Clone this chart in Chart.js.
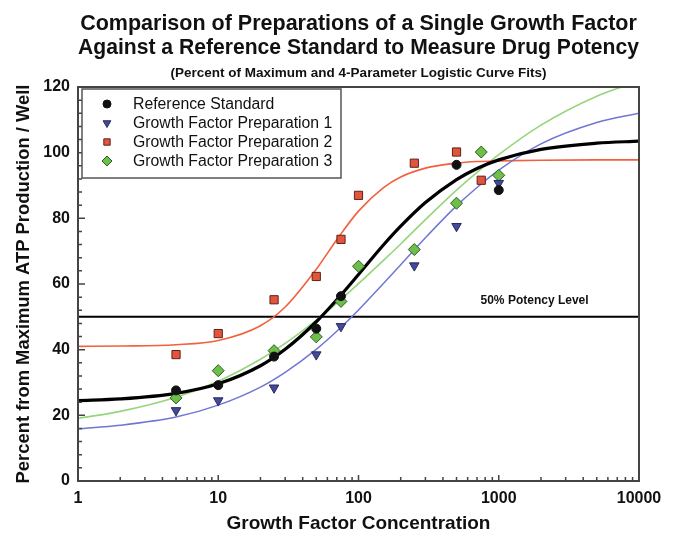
<!DOCTYPE html>
<html>
<head>
<meta charset="utf-8">
<script src="https://cdn.jsdelivr.net/npm/chart.js@4.4.0/dist/chart.umd.min.js"></script>
<style>
  body { margin: 0; background: #fff; }
</style>
</head>
<body>
<canvas id="myCanvas" width="674" height="535"></canvas>
<script>
'use strict';

// chart data

const seriesNames = [
  'Reference Standard',
  'Growth Factor Preparation 1',
  'Growth Factor Preparation 2',
  'Growth Factor Preparation 3'
];

// measured points (concentration, percent of maximum)
const refConc = [5, 10, 25, 50, 75, 500, 1000];
const refPct = [27.6, 29.2, 37.9, 46.4, 56.3, 96.3, 88.6];

const prep1Conc = [5, 10, 25, 50, 75, 250, 500, 1000];
const prep1Pct = [21.5, 24.5, 28.4, 38.5, 47.1, 65.6, 77.6, 90.7];

const prep2Conc = [5, 10, 25, 50, 75, 100, 250, 500, 750];
const prep2Pct = [38.5, 44.9, 55.2, 62.3, 73.6, 87.0, 96.8, 100.2, 91.6];

const prep3Conc = [5, 10, 25, 50, 75, 100, 250, 500, 750, 1000];
const prep3Pct = [25.3, 33.6, 39.7, 43.9, 54.7, 65.4, 70.5, 84.6, 100.2, 93.1];

// fitted curves
const curveConc = [1, 2, 5, 10, 20, 30, 50, 70, 100, 150, 200, 300, 500, 700, 1000, 2000, 5000, 10000];
const refFit = [24.5, 25.0, 26.7, 29.6, 35.1, 40.1, 48.5, 55.2, 62.9, 71.8, 77.6, 84.8, 91.8, 95.2, 97.8, 101.0, 102.9, 103.5];
const prep1Fit = [15.9, 17.0, 19.5, 23.1, 28.6, 33.1, 40.1, 45.6, 52.1, 60.1, 65.9, 74.1, 83.8, 89.4, 94.7, 102.7, 109.2, 112.0];
const prep2Fit = [41.0, 41.1, 41.5, 42.8, 47.3, 53.0, 64.5, 73.5, 82.2, 89.3, 92.6, 95.3, 96.8, 97.3, 97.5, 97.7, 97.8, 97.8];
const prep3Fit = [19.1, 21.2, 25.5, 30.4, 37.1, 41.9, 49.0, 54.2, 60.1, 67.1, 72.2, 79.6, 88.6, 94.0, 99.4, 108.4, 117.2, 121.8];

const potencyLevel = 50;
const potencyLabel = '50% Potency Level';

const xTickValues = [1, 10, 100, 1000, 10000];
const yTickValues = [0, 20, 40, 60, 80, 100, 120];

const fontFamily = '"Liberation Sans", Arial, Helvetica, sans-serif';

// helpers

function pairUp(xs, ys) {
  let out = [];
  for (let i = 0; i < xs.length; i++) {
    out.push({ x: xs[i], y: ys[i] });
  }
  return out;
}

function pointSet(label, xs, ys, style, fill, edge, radius, rotation) {
  return {
    label: label,
    data: pairUp(xs, ys),
    showLine: false,
    pointStyle: style,
    pointRadius: radius,
    pointRotation: rotation,
    backgroundColor: fill,
    borderColor: edge,
    pointBorderWidth: 1,
    order: 1
  };
}

function fitSet(ys, colour, width) {
  return {
    label: 'fit',
    data: pairUp(curveConc, ys),
    showLine: true,
    pointRadius: 0,
    borderColor: colour,
    borderWidth: width,
    cubicInterpolationMode: 'monotone',
    order: 2
  };
}

// plugins

const boxLegend = {
  id: 'boxLegend',
  afterDraw(chart) {
    const ctx = chart.ctx;
    const area = chart.chartArea;
    const left = area.left + 4;
    const top = area.top + 2;
    ctx.save();
    ctx.fillStyle = '#fff';
    ctx.fillRect(left, top, 259, 89);
    ctx.strokeStyle = '#555';
    ctx.lineWidth = 1.5;
    ctx.strokeRect(left, top, 259, 89);
    ctx.font = '15.8px ' + fontFamily;
    ctx.textBaseline = 'middle';
    ctx.textAlign = 'left';
    const sizes = [4, 4.5, 4.5, 5];
    for (let i = 0; i < seriesNames.length; i++) {
      const ds = chart.data.datasets[i];
      const y = top + 15 + i * 19;
      ctx.fillStyle = ds.backgroundColor;
      ctx.strokeStyle = ds.borderColor;
      ctx.lineWidth = 1;
      Chart.helpers.drawPoint(ctx, {
        pointStyle: ds.pointStyle,
        radius: sizes[i],
        rotation: ds.pointRotation,
        borderWidth: 1
      }, left + 25, y);
      ctx.fillStyle = '#111';
      ctx.fillText(seriesNames[i], left + 51, y + 1);
    }
    ctx.restore();
  }
};

const frameAndTicks = {
  id: 'frameAndTicks',
  afterDraw(chart) {
    const ctx = chart.ctx;
    const a = chart.chartArea;
    const xs = chart.scales.x;
    const ys = chart.scales.y;
    ctx.save();
    ctx.strokeStyle = '#444';
    ctx.lineWidth = 1.5;
    ctx.beginPath();
    // log ticks pointing up from the bottom axis
    for (let d = 1; d < 10000; d *= 10) {
      for (let k = 1; k <= 9; k++) {
        const px = xs.getPixelForValue(k * d);
        const len = k === 1 ? 6 : 4;
        ctx.moveTo(px, a.bottom);
        ctx.lineTo(px, a.bottom - len);
      }
    }
    // y ticks pointing right, minor every 4
    for (let v = 0; v <= 120; v += 4) {
      const py = ys.getPixelForValue(v);
      const len = v % 20 === 0 ? 7 : 4;
      ctx.moveTo(a.left, py);
      ctx.lineTo(a.left + len, py);
    }
    ctx.stroke();
    ctx.lineWidth = 2;
    ctx.strokeRect(a.left, a.top, a.right - a.left, a.bottom - a.top);
    // potency text
    ctx.fillStyle = '#111';
    ctx.font = 'bold 12px ' + fontFamily;
    ctx.textAlign = 'center';
    ctx.textBaseline = 'middle';
    ctx.fillText(potencyLabel, xs.getPixelForValue(1800), ys.getPixelForValue(potencyLevel) - 16);
    ctx.restore();
  }
};

// build the chart

const datasets = [
  pointSet(seriesNames[0], refConc, refPct, 'circle', '#111111', '#111111', 4.5, 0),
  pointSet(seriesNames[1], prep1Conc, prep1Pct, 'triangle', '#44499a', '#262a5c', 5.5, 180),
  pointSet(seriesNames[2], prep2Conc, prep2Pct, 'rect', '#e2553c', '#5a2418', 5.8, 0),
  pointSet(seriesNames[3], prep3Conc, prep3Pct, 'rectRot', '#6cc04a', '#2f5a22', 6, 0),
  fitSet(refFit, '#000000', 3.2),
  fitSet(prep1Fit, '#7076d4', 1.5),
  fitSet(prep2Fit, '#f2603c', 1.6),
  fitSet(prep3Fit, '#95d67c', 1.6),
  {
    label: 'potency',
    data: [{ x: 1, y: potencyLevel }, { x: 10000, y: potencyLevel }],
    showLine: true,
    pointRadius: 0,
    borderColor: '#000000',
    borderWidth: 2,
    order: 3
  }
];

const config = {
  type: 'scatter',
  data: { datasets: datasets },
  options: {
    responsive: false,
    animation: false,
    layout: { padding: { top: 0, left: 0, right: 35, bottom: 0 } },
    plugins: {
      legend: { display: false },
      tooltip: { enabled: false },
      title: {
        display: true,
        fullSize: false,
        text: [
          'Comparison of Preparations of a Single Growth Factor',
          'Against a Reference Standard to Measure Drug Potency'
        ],
        color: '#111',
        font: { family: fontFamily, size: 21.5, weight: 'bold', lineHeight: 1.12 },
        padding: { top: 12, bottom: 6 }
      },
      subtitle: {
        display: true,
        fullSize: false,
        text: '(Percent of Maximum and 4-Parameter Logistic Curve Fits)',
        color: '#111',
        font: { family: fontFamily, size: 13.5, weight: 'bold', lineHeight: 1.1 },
        padding: { top: 0, bottom: 6 }
      }
    },
    scales: {
      x: {
        type: 'logarithmic',
        min: 1,
        max: 10000,
        afterBuildTicks: (scale) => {
          scale.ticks = xTickValues.map(v => ({ value: v }));
        },
        afterFit: (scale) => { scale.height = 54; },
        grid: { display: false, drawTicks: false },
        border: { display: false },
        ticks: {
          autoSkip: false,
          maxRotation: 0,
          padding: 8,
          color: '#111',
          font: { family: fontFamily, size: 16, weight: 'bold' },
          callback: (v) => String(v)
        },
        title: {
          display: true,
          text: 'Growth Factor Concentration',
          color: '#111',
          font: { family: fontFamily, size: 19, weight: 'bold', lineHeight: 1.2 },
          padding: { top: 2, bottom: 0 }
        }
      },
      y: {
        min: 0,
        max: 120,
        afterBuildTicks: (scale) => {
          scale.ticks = yTickValues.map(v => ({ value: v }));
        },
        afterFit: (scale) => { scale.width = 78; },
        grid: { display: false, drawTicks: false },
        border: { display: false },
        ticks: {
          padding: 8,
          color: '#111',
          font: { family: fontFamily, size: 16, weight: 'bold' }
        },
        title: {
          display: true,
          text: 'Percent from Maximum ATP Production / Well',
          color: '#111',
          font: { family: fontFamily, size: 18.4, weight: 'bold', lineHeight: 1.2 },
          padding: { top: 13, bottom: 0 }
        }
      }
    }
  },
  plugins: [frameAndTicks, boxLegend]
};

const chart = document.getElementById('myCanvas');
const myChart = new Chart(chart, config);
</script>
</body>
</html>
